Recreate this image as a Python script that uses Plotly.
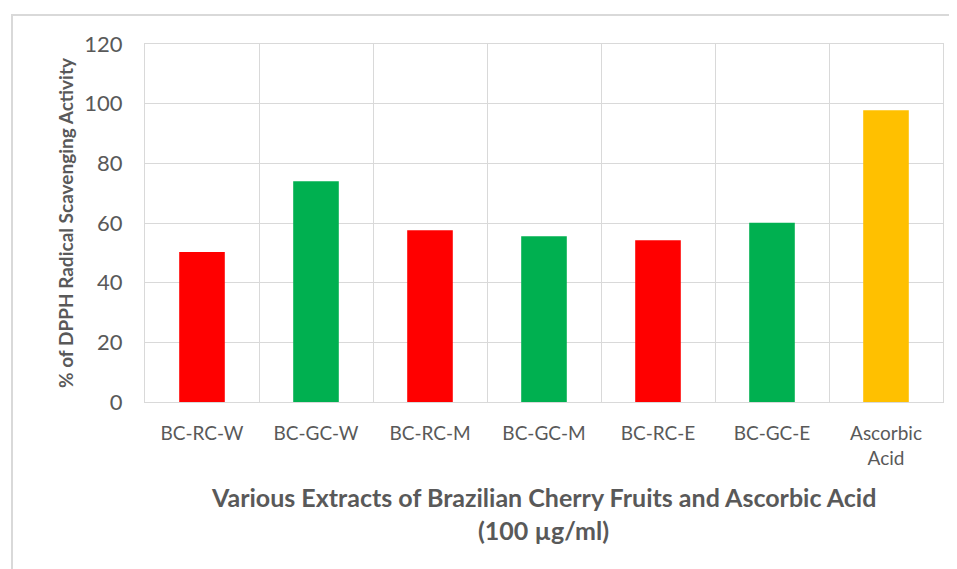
import plotly.graph_objects as go

categories = ["BC-RC-W", "BC-GC-W", "BC-RC-M", "BC-GC-M", "BC-RC-E", "BC-GC-E", "Ascorbic<br>Acid"]
values = [50.3, 74.0, 57.6, 55.6, 54.2, 60.1, 97.8]
colors = ["#FF0000", "#00B050", "#FF0000", "#00B050", "#FF0000", "#00B050", "#FFC000"]
yticks = [0, 20, 40, 60, 80, 100, 120]

# page body offset of 8px; figure sized so the plot sits at the reference position
OFF = 8
W, H = 957 - OFF, 569 - OFF
PL, PR, PT, PB = 145, 943, 44, 402  # plot area in page pixels
L, T = PL - OFF, PT - OFF
R, B = W - (PR - OFF), H - (PB - OFF)
pw, ph = PR - PL, PB - PT

def px(x):
    return (x - PL) / pw

def py(y):
    return (PB - y) / ph

fig = go.Figure(go.Bar(x=categories, y=values, marker=dict(color=colors, line=dict(width=0)), width=0.4))

font = "Lato, Open Sans, sans-serif"
fig.update_layout(
    width=W, height=H, margin=dict(l=L, r=R, t=T, b=B),
    paper_bgcolor="white", plot_bgcolor="white", showlegend=False,
    font=dict(family=font, color="#595959", size=19),
    xaxis=dict(type="category", tickson="boundaries", showgrid=True, gridcolor="#D9D9D9", gridwidth=1,
               showline=True, linecolor="#D9D9D9", linewidth=1, mirror=True, ticks="", ticklen=0,
               tickfont=dict(size=19, color="#595959"), ticklabelstandoff=14),
    yaxis=dict(range=[0, 120], tickvals=yticks, showgrid=True, gridcolor="#D9D9D9", gridwidth=1,
               showline=True, linecolor="#D9D9D9", mirror=True, zeroline=False, ticks="",
               tickfont=dict(size=22, color="#595959"), ticklabelstandoff=17),
    shapes=[dict(type="rect", xref="paper", yref="paper", x0=px(12), x1=px(975), y0=py(15), y1=py(600),
                 line=dict(color="#D9D9D9", width=2), fillcolor="rgba(0,0,0,0)", layer="below")],
    annotations=[
        dict(text="<b>% of DPPH Radical Scavenging Activity</b>", xref="paper", yref="paper",
             x=px(65), y=py(223), textangle=-90, showarrow=False, font=dict(size=19, color="#595959"),
             xanchor="center", yanchor="middle"),
        dict(text="<b>Various Extracts of Brazilian Cherry Fruits and Ascorbic Acid</b>",
             xref="paper", yref="paper", x=px(543), y=py(497), showarrow=False,
             font=dict(size=25, color="#595959"), xanchor="center", yanchor="middle"),
        dict(text="<b>(100 µg/ml)</b>",
             xref="paper", yref="paper", x=px(543), y=py(530), showarrow=False,
             font=dict(size=25, color="#595959"), xanchor="center", yanchor="middle"),
    ],
)

fig.write_html("out.html")
